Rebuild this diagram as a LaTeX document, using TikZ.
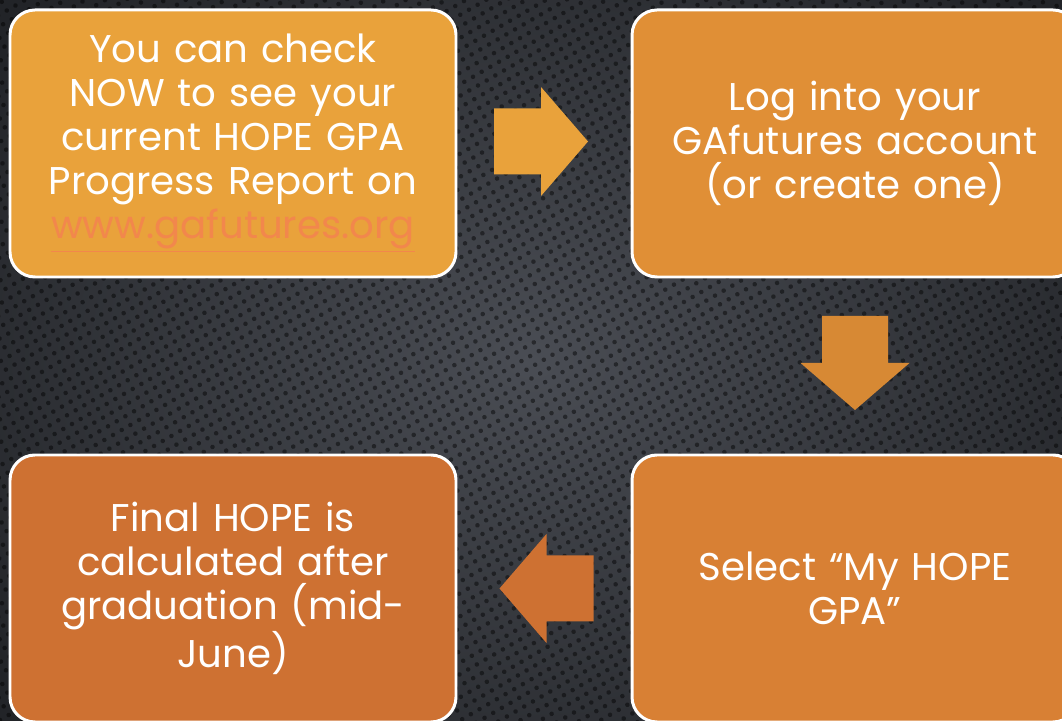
\documentclass[tikz,border=0pt]{standalone}
\usepackage{fontspec}
\setmainfont{Poppins}
\usetikzlibrary{calc,patterns.meta}

\definecolor{bgmid}{HTML}{4A4D54}
\definecolor{bgedge}{HTML}{222428}
\definecolor{stepA}{HTML}{E9A23B}
\definecolor{stepB}{HTML}{E08F36}
\definecolor{stepC}{HTML}{D88034}
\definecolor{stepD}{HTML}{CE7132}
\definecolor{linkcol}{HTML}{F2874C}

\tikzset{
  stepbox/.style={draw=white, line width=1.7pt, rounded corners=0.5cm,
    minimum width=8.92cm, minimum height=5.34cm, text width=8.5cm,
    align=center, text=white, font=\fontsize{22}{25}\selectfont},
}

\begin{document}
\begin{tikzpicture}
    \useasboundingbox (0,0) rectangle (21.24,14.4);
    \clip (0,0) rectangle (21.24,14.4);

    % dark perforated background
    \shade[inner color=bgmid, outer color=bgedge] (-3,-3) rectangle (24.24,17.4);
    \fill[pattern={Dots[radius=1.3pt, distance=5.7pt, angle=30]}, pattern color=black, opacity=0.45]
        (0,0) rectangle (21.24,14.4);

    \coordinate (P1) at (4.66,11.53);
    \coordinate (P2) at (17.10,11.53);
    \coordinate (P3) at (17.10,2.63);
    \coordinate (P4) at (4.66,2.63);

    \node[stepbox, fill=stepA] (check) at (P1)
        {You can check\\ NOW to see your\\ current HOPE GPA\\ Progress Report on\\
         \textcolor{linkcol}{\underline{www.gafutures.org}}};
    \node[stepbox, fill=stepB] (login) at (P2)
        {Log into your\\ GAfutures account\\ (or create one)};
    \node[stepbox, fill=stepC] (select) at (P3)
        {Select “My HOPE\\ GPA”};
    \node[stepbox, fill=stepD] (final) at (P4)
        {Final HOPE is\\ calculated after\\ graduation (mid-\\ June)};

    % block arrows between the boxes
    \coordinate (M1) at ($(check.east)!0.5!(login.west)+(-0.06,0.04)$);
    \coordinate (M2) at ($(login.south)!0.5!(select.north)+(0,0.06)$);
    \coordinate (M3) at ($(select.west)!0.5!(final.east)+(0.05,0)$);

    \fill[stepA, shift={(M1)}, rotate=0]
        (-0.94,0.66) -- (0,0.66) -- (0,1.09) -- (0.94,0) -- (0,-1.09) -- (0,-0.66) -- (-0.94,-0.66) -- cycle;
    \fill[stepB!96!black, shift={(M2)}, rotate=-90]
        (-0.94,0.66) -- (0,0.66) -- (0,1.09) -- (0.94,0) -- (0,-1.09) -- (0,-0.66) -- (-0.94,-0.66) -- cycle;
    \fill[stepD, shift={(M3)}, rotate=180]
        (-0.94,0.66) -- (0,0.66) -- (0,1.09) -- (0.94,0) -- (0,-1.09) -- (0,-0.66) -- (-0.94,-0.66) -- cycle;
\end{tikzpicture}
\end{document}
